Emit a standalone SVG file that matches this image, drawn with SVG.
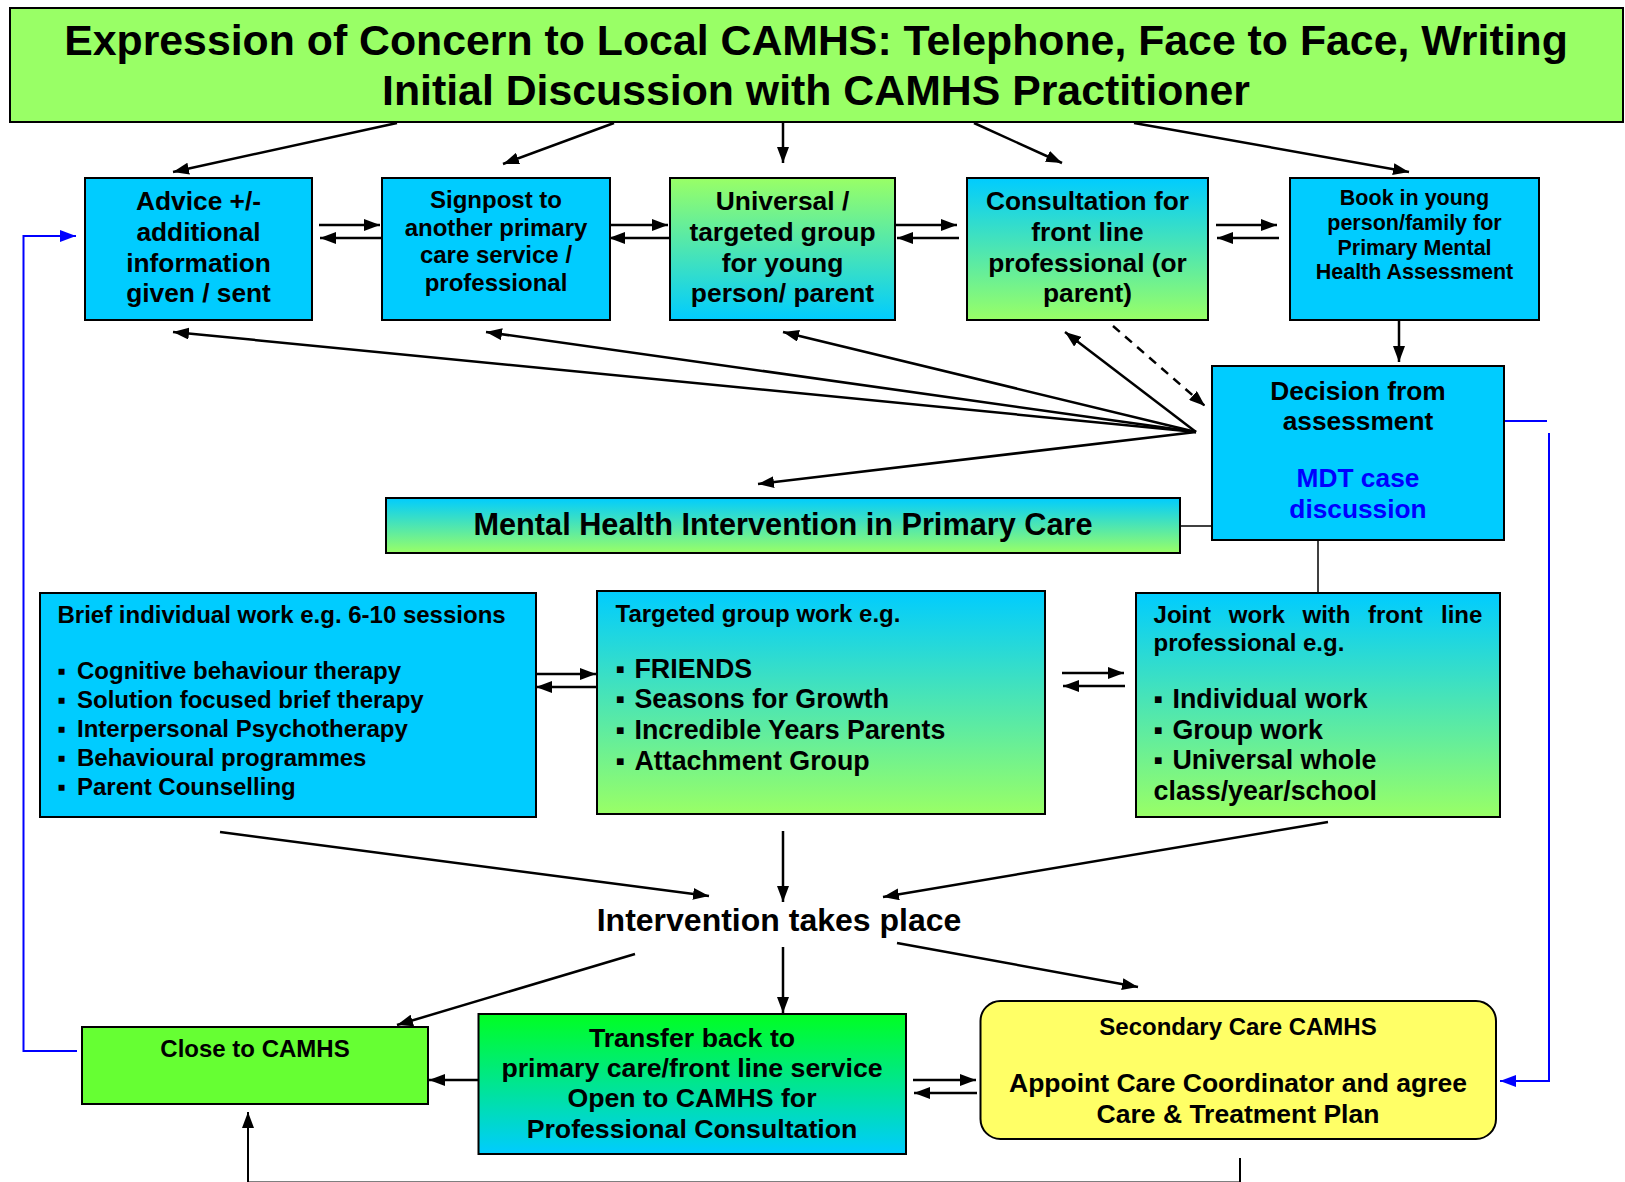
<svg xmlns="http://www.w3.org/2000/svg" width="1625" height="1182" viewBox="0 0 1625 1182">
<style>
text{font-family:"Liberation Sans",Arial,sans-serif;font-weight:bold;fill:#000}
.c{text-anchor:middle}
.box{stroke:#000;stroke-width:2}
.cy{fill:#00CCFF}
.ln{stroke:#000;stroke-width:2.5;fill:none}
.bl{stroke:#0000FF;stroke-width:2;fill:none}
.arr{marker-end:url(#ah)}
</style>
<defs>
<marker id="ah" viewBox="0 0 16 12" refX="16" refY="6" markerWidth="16" markerHeight="12" markerUnits="userSpaceOnUse" orient="auto"><path d="M0,0 L16,6 L0,12 z" fill="#000"/></marker>
<marker id="ahb" viewBox="0 0 16 12" refX="16" refY="6" markerWidth="16" markerHeight="12" markerUnits="userSpaceOnUse" orient="auto"><path d="M0,0 L16,6 L0,12 z" fill="#0000FF"/></marker>
<linearGradient id="gc" x1="0" y1="0" x2="0" y2="1"><stop offset="0" stop-color="#00CCFF"/><stop offset="1" stop-color="#99FF66"/></linearGradient>
<linearGradient id="gg" x1="0" y1="0" x2="0" y2="1"><stop offset="0" stop-color="#99FF66"/><stop offset="1" stop-color="#00CCFF"/></linearGradient>
<linearGradient id="gt" x1="0" y1="0" x2="0" y2="1"><stop offset="0" stop-color="#00FF22"/><stop offset="1" stop-color="#00CCFF"/></linearGradient>
</defs>
<rect width="1625" height="1182" fill="#fff"/>

<g id="connectors">
<!-- title to row 1 -->
<line class="ln arr" x1="397" y1="123" x2="173" y2="172"/>
<line class="ln arr" x1="614" y1="123" x2="503" y2="164"/>
<line class="ln arr" x1="783" y1="123" x2="783" y2="163"/>
<line class="ln arr" x1="974" y1="123" x2="1062" y2="163"/>
<line class="ln arr" x1="1134" y1="123" x2="1409" y2="172"/>
<!-- row 1 double arrows -->
<line class="ln arr" x1="319" y1="225" x2="380" y2="225"/>
<line class="ln arr" x1="382" y1="238" x2="320" y2="238"/>
<line class="ln arr" x1="607" y1="225" x2="668" y2="225"/>
<line class="ln arr" x1="670" y1="238" x2="609" y2="238"/>
<line class="ln arr" x1="896" y1="225" x2="957" y2="225"/>
<line class="ln arr" x1="959" y1="238" x2="897" y2="238"/>
<line class="ln arr" x1="1216" y1="225" x2="1277" y2="225"/>
<line class="ln arr" x1="1279" y1="238" x2="1217" y2="238"/>
<!-- book to decision -->
<line class="ln arr" x1="1399" y1="321" x2="1399" y2="362"/>
<!-- fan from decision -->
<line class="ln arr" x1="1196" y1="432" x2="173" y2="332"/>
<line class="ln arr" x1="1196" y1="432" x2="486" y2="332"/>
<line class="ln arr" x1="1196" y1="432" x2="783" y2="332"/>
<line class="ln arr" x1="1196" y1="432" x2="1065" y2="332"/>
<line class="ln arr" x1="1196" y1="432" x2="758" y2="484"/>
<line class="ln arr" x1="1113" y1="326" x2="1205" y2="406" stroke-dasharray="9,7"/>
<!-- decision links -->
<line x1="1180" y1="526" x2="1212" y2="526" stroke="#000" stroke-width="1.5"/>
<line x1="1318" y1="540" x2="1318" y2="593" stroke="#000" stroke-width="1.5"/>
<!-- blue right loop -->
<line class="bl" x1="1504" y1="421" x2="1547" y2="421"/>
<polyline class="bl" points="1549,433 1549,1081 1500,1081" marker-end="url(#ahb)"/>
<!-- blue left loop -->
<polyline class="bl" points="77,1051 23.5,1051 23.5,236 76,236" marker-end="url(#ahb)"/>
<!-- row 2 double arrows -->
<line class="ln arr" x1="536" y1="674" x2="596" y2="674"/>
<line class="ln arr" x1="598" y1="687" x2="536" y2="687"/>
<line class="ln arr" x1="1062" y1="673" x2="1124" y2="673"/>
<line class="ln arr" x1="1125" y1="686" x2="1063" y2="686"/>
<!-- into intervention -->
<line class="ln arr" x1="220" y1="832" x2="709" y2="896"/>
<line class="ln arr" x1="783" y1="831" x2="783" y2="902"/>
<line class="ln arr" x1="1328" y1="822" x2="883" y2="897"/>
<!-- out of intervention -->
<line class="ln arr" x1="635" y1="954" x2="397" y2="1025"/>
<line class="ln arr" x1="783" y1="947" x2="783" y2="1013"/>
<line class="ln arr" x1="897" y1="943" x2="1138" y2="987"/>
<!-- bottom row -->
<line class="ln arr" x1="478" y1="1080" x2="429" y2="1080"/>
<line class="ln arr" x1="913" y1="1080" x2="976" y2="1080"/>
<line class="ln arr" x1="977" y1="1093" x2="914" y2="1093"/>
<polyline points="1240,1158 1240,1182.5 248,1182.5 248,1112" stroke="#000" stroke-width="2" fill="none" marker-end="url(#ah)"/>
</g>

<g id="title">
<rect class="box" x="10" y="8" width="1613" height="114" fill="#99FF66"/>
<text class="c" x="816" y="55" font-size="42.8">Expression of Concern to Local CAMHS: Telephone, Face to Face, Writing</text>
<text class="c" x="816" y="105" font-size="42.8">Initial Discussion with CAMHS Practitioner</text>
</g>

<g id="advice">
<rect class="box cy" x="85" y="178" width="227" height="142"/>
<text class="c" x="198.5" y="210" font-size="26.3">Advice +/-</text>
<text class="c" x="198.5" y="241" font-size="26.3">additional</text>
<text class="c" x="198.5" y="272" font-size="26.3">information</text>
<text class="c" x="198.5" y="302" font-size="26.3">given / sent</text>
</g>

<g id="signpost">
<rect class="box cy" x="382" y="178" width="228" height="142"/>
<text class="c" x="496" y="208" font-size="24">Signpost to</text>
<text class="c" x="496" y="236" font-size="24">another primary</text>
<text class="c" x="496" y="263" font-size="24">care service /</text>
<text class="c" x="496" y="291" font-size="24">professional</text>
</g>

<g id="universal">
<rect class="box" x="670" y="178" width="225" height="142" fill="url(#gg)"/>
<text class="c" x="782.5" y="210" font-size="26.4">Universal /</text>
<text class="c" x="782.5" y="241" font-size="26.4">targeted group</text>
<text class="c" x="782.5" y="272" font-size="26.4">for young</text>
<text class="c" x="782.5" y="302" font-size="26.4">person/ parent</text>
</g>

<g id="consultation">
<rect class="box" x="967" y="178" width="241" height="142" fill="url(#gc)"/>
<text class="c" x="1087.5" y="210" font-size="26.3">Consultation for</text>
<text class="c" x="1087.5" y="241" font-size="26.3">front line</text>
<text class="c" x="1087.5" y="272" font-size="26.3">professional (or</text>
<text class="c" x="1087.5" y="302" font-size="26.3">parent)</text>
</g>

<g id="book">
<rect class="box cy" x="1290" y="178" width="249" height="142"/>
<text class="c" x="1414.5" y="205" font-size="21.5">Book in young</text>
<text class="c" x="1414.5" y="230" font-size="21.5">person/family for</text>
<text class="c" x="1414.5" y="255" font-size="21.5">Primary Mental</text>
<text class="c" x="1414.5" y="279" font-size="21.5">Health Assessment</text>
</g>

<g id="decision">
<rect class="box cy" x="1212" y="366" width="292" height="174"/>
<text class="c" x="1358" y="400" font-size="26.3">Decision from</text>
<text class="c" x="1358" y="430" font-size="26.3">assessment</text>
<text class="c" x="1358" y="487" font-size="26.3" style="fill:#0000FF">MDT case</text>
<text class="c" x="1358" y="518" font-size="26.3" style="fill:#0000FF">discussion</text>
</g>

<g id="mental-health">
<rect class="box" x="386" y="498" width="794" height="55" fill="url(#gc)"/>
<text class="c" x="783" y="535" font-size="30.7">Mental Health Intervention in Primary Care</text>
</g>

<g id="brief">
<rect class="box cy" x="40" y="593" width="496" height="224"/>
<text x="57.5" y="623" font-size="24">Brief individual work e.g. 6-10 sessions</text>
<g font-size="24">
<text y="679"><tspan x="57.5">▪</tspan><tspan x="77">Cognitive behaviour therapy</tspan></text>
<text y="708"><tspan x="57.5">▪</tspan><tspan x="77">Solution focused brief therapy</tspan></text>
<text y="737"><tspan x="57.5">▪</tspan><tspan x="77">Interpersonal Psychotherapy</tspan></text>
<text y="766"><tspan x="57.5">▪</tspan><tspan x="77">Behavioural programmes</tspan></text>
<text y="795"><tspan x="57.5">▪</tspan><tspan x="77">Parent Counselling</tspan></text>
</g>
</g>

<g id="targeted">
<rect class="box" x="597" y="591" width="448" height="223" fill="url(#gc)"/>
<text x="615.5" y="622" font-size="24">Targeted group work e.g.</text>
<g font-size="26.8">
<text y="678"><tspan x="615.5">▪</tspan><tspan x="634.5">FRIENDS</tspan></text>
<text y="708"><tspan x="615.5">▪</tspan><tspan x="634.5">Seasons for Growth</tspan></text>
<text y="739"><tspan x="615.5">▪</tspan><tspan x="634.5">Incredible Years Parents</tspan></text>
<text y="770"><tspan x="615.5">▪</tspan><tspan x="634.5">Attachment Group</tspan></text>
</g>
</g>

<g id="joint">
<rect class="box" x="1136" y="593" width="364" height="224" fill="url(#gc)"/>
<text y="623" font-size="24"><tspan x="1153.6">Joint</tspan><tspan x="1228.8">work</tspan><tspan x="1302.5">with</tspan><tspan x="1368">front</tspan><tspan x="1441">line</tspan></text>
<text x="1153.6" y="651" font-size="24">professional e.g.</text>
<g font-size="26.8">
<text y="708"><tspan x="1153.6">▪</tspan><tspan x="1172.5">Individual work</tspan></text>
<text y="739"><tspan x="1153.6">▪</tspan><tspan x="1172.5">Group work</tspan></text>
<text y="769"><tspan x="1153.6">▪</tspan><tspan x="1172.5">Universal whole</tspan></text>
<text x="1153.6" y="800">class/year/school</text>
</g>
</g>

<g id="intervention">
<text class="c" x="779" y="931" font-size="32">Intervention takes place</text>
</g>

<g id="close">
<rect class="box" x="82" y="1027" width="346" height="77" fill="#66FF33"/>
<text class="c" x="255" y="1057" font-size="24">Close to CAMHS</text>
</g>

<g id="transfer">
<rect class="box" x="478.5" y="1014" width="427.5" height="140" fill="url(#gt)"/>
<text class="c" x="692" y="1047" font-size="26.7">Transfer back to</text>
<text class="c" x="692" y="1077" font-size="26.7">primary care/front line service</text>
<text class="c" x="692" y="1107" font-size="26.7">Open to CAMHS for</text>
<text class="c" x="692" y="1138" font-size="26.7">Professional Consultation</text>
</g>

<g id="secondary">
<rect class="box" x="980.5" y="1001" width="515.5" height="138" rx="20" ry="20" fill="#FFFF66"/>
<text class="c" x="1238" y="1035" font-size="24">Secondary Care CAMHS</text>
<text class="c" x="1238" y="1092" font-size="26.5">Appoint Care Coordinator and agree</text>
<text class="c" x="1238" y="1123" font-size="26.5">Care &amp; Treatment Plan</text>
</g>
</svg>
